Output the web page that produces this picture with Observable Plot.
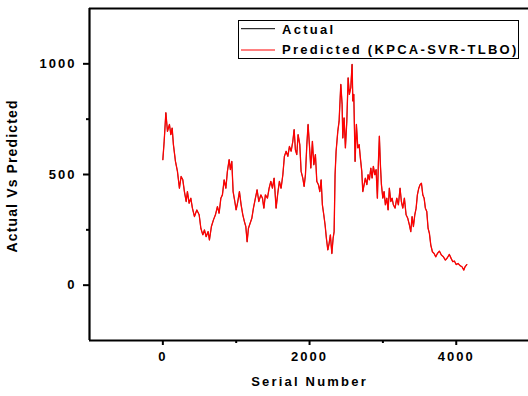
<!DOCTYPE html>
<html>
<head>
<meta charset="utf-8">
<script src="https://cdn.jsdelivr.net/npm/d3@7"></script>
<script src="https://cdn.jsdelivr.net/npm/@observablehq/plot@0.6"></script>
<style>
  html, body { margin: 0; padding: 0; background: #fff; }
  #chart { width: 528px; height: 396px; overflow: hidden; }
  svg { font-family: "Liberation Sans", Arial, sans-serif; font-weight: bold; }
</style>
</head>
<body>
<div id="chart"></div>
<script>
const serial = [0,18,41,63,90,109,127,144,172,199,226,249,272,294,318,335,358,381,403,431,463,495,518,545,567,590,617,635,662,690,717,744,767,791,812,836,859,880,904,921,940,958,981,999,1022,1044,1067,1090,1112,1131,1149,1167,1190,1213,1235,1262,1285,1308,1336,1358,1377,1398,1426,1449,1472,1494,1517,1544,1567,1589,1612,1636,1657,1681,1704,1726,1749,1772,1790,1807,1826,1844,1867,1885,1908,1926,1944,1963,1980,1998,2017,2039,2058,2080,2099,2121,2140,2158,2175,2194,2212,2230,2249,2267,2284,2304,2321,2335,2348,2362,2385,2403,2407,2426,2444,2453,2471,2489,2508,2526,2543,2562,2580,2590,2603,2621,2639,2658,2676,2693,2712,2726,2744,2761,2781,2798,2816,2835,2853,2870,2890,2907,2925,2939,2952,2966,2980,2999,3016,3034,3053,3071,3088,3108,3125,3143,3166,3189,3211,3234,3252,3271,3293,3316,3339,3361,3380,3398,3416,3435,3453,3470,3489,3507,3525,3544,3562,3579,3598,3616,3634,3653,3675,3698,3721,3743,3770,3797,3825,3852,3879,3906,3930,3953,3975,3998,4025,4052,4079,4103,4120,4143];
const actual = [567,650,779,695,726,680,710,635,559,514,438,491,476,423,378,423,370,393,348,310,340,318,257,227,250,219,242,204,265,295,318,355,325,393,408,476,438,514,567,522,559,423,378,340,378,423,363,318,287,265,196,257,280,302,348,393,431,378,408,393,348,408,393,438,469,438,484,348,416,469,438,499,582,605,582,627,605,650,703,612,590,680,635,514,484,446,499,635,726,635,529,650,544,590,469,454,423,476,363,318,272,211,159,189,227,143,211,242,499,605,695,741,771,907,817,665,756,620,741,937,862,892,998,832,862,559,726,620,635,574,514,423,454,484,454,499,476,529,484,537,499,522,393,559,673,544,454,393,423,363,393,340,438,378,393,363,348,393,363,438,378,348,393,318,302,272,242,310,265,318,348,408,438,454,461,408,393,348,333,257,234,181,151,143,128,143,154,136,128,113,124,139,121,106,109,93,98,88,83,68,83,93];
// Predicted (KPCA-SVR-TLBO) tracks the actual series to within the line width
const predicted = actual.slice();

const yMajor = [0, 500, 1000];
const yMinor = [250, 750];
const xMajor = [0, 2000, 4000];
const xMinor = [1000, 3000];

const rows = serial.map((s, i) => ({s, a: actual[i], p: predicted[i]}));

const plot = Plot.plot({
  width: 528,
  height: 396,
  marginLeft: 89,
  marginRight: 0,
  marginTop: 8,
  marginBottom: 56,
  style: {background: "#fff", color: "#000", fontSize: "13px", overflow: "visible"},
  x: {domain: [-1000, 4985]},
  y: {domain: [-250, 1250]},
  marks: [
    Plot.axisY(yMajor, {tickSize: 6, tickPadding: 7, strokeWidth: 2, fontSize: 13, fontWeight: "bold", tickFormat: "d", label: null}),
    Plot.axisY(yMinor, {tickSize: 3, strokeWidth: 2, text: null, label: null}),
    Plot.axisX(xMajor, {tickSize: 5, tickPadding: 6, strokeWidth: 2, fontSize: 13, fontWeight: "bold", tickFormat: "d", label: null}),
    Plot.axisX(xMinor, {tickSize: 3, strokeWidth: 2, text: null, label: null}),
    Plot.ruleX([-1000], {strokeWidth: 2.2}),
    Plot.ruleY([-250, 1250], {strokeWidth: 2.2}),
    Plot.lineY(rows, {x: "s", y: "a", stroke: "#000", strokeWidth: 0.6}),
    Plot.lineY(rows, {x: "s", y: "p", stroke: "#ff0000", strokeWidth: 1.3}),
    Plot.text(["Actual Vs Predicted"], {frameAnchor: "left", textAnchor: "middle", dx: -77, dy: 2, rotate: -90, fontSize: 14, fontWeight: "bold"}),
    Plot.text(["Serial Number"], {x: [2000], frameAnchor: "bottom", dy: 45, fontSize: 13, fontWeight: "bold"})
  ]
});

document.getElementById("chart").appendChild(plot);

const svg = d3.select(plot);
// letter spacing as in the reference typography
svg.selectAll("text").each(function () {
  const t = this.textContent;
  if (/^\d+$/.test(t)) this.style.letterSpacing = "2px";
  else if (t === "Serial Number") this.style.letterSpacing = "2.2px";
  else if (t === "Actual Vs Predicted") {
    this.setAttribute("textLength", 152);
    this.setAttribute("lengthAdjust", "spacing");
  }
});

// Legend box
const lg = svg.append("g").attr("class", "legend");
lg.append("rect").attr("x", 238.5).attr("y", 20.5).attr("width", 280).attr("height", 38)
  .attr("fill", "#fff").attr("stroke", "#000").attr("stroke-width", 1);
const items = [["Actual", "#000", 28.7, 33.5], ["Predicted (KPCA-SVR-TLBO)", "#ff0000", 50, 53.5]];
for (const [label, color, ly, ty] of items) {
  lg.append("line").attr("x1", 241).attr("x2", 275).attr("y1", ly).attr("y2", ly)
    .attr("stroke", color).attr("stroke-width", 1);
  lg.append("text").attr("x", 282).attr("y", ty).text(label)
    .attr("text-anchor", "start").attr("fill", "#000")
    .attr("font-size", 13).attr("font-weight", "bold").style("letter-spacing", "2.3px");
}
</script>
</body>
</html>
